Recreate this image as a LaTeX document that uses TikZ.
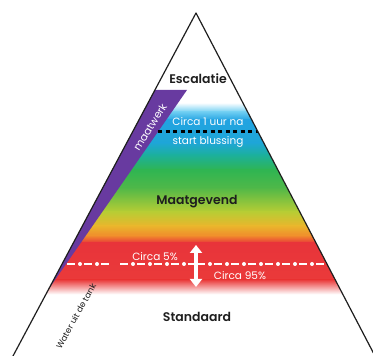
\documentclass[tikz,border=0pt]{standalone}
\usepackage{fontspec}
\setmainfont{Poppins}[BoldFont={Poppins SemiBold}]
\usetikzlibrary{arrows.meta}
\definecolor{lichtblauw}{RGB}{111,206,242}
\definecolor{blauw}{RGB}{34,163,226}
\definecolor{blauwb}{RGB}{30,166,214}
\definecolor{petrol}{RGB}{28,176,156}
\definecolor{groen}{RGB}{47,181,82}
\definecolor{groenb}{RGB}{80,184,72}
\definecolor{geelgroen}{RGB}{184,205,52}
\definecolor{geel}{RGB}{234,181,44}
\definecolor{oranje}{RGB}{240,138,44}
\definecolor{rood}{RGB}{232,52,58}
\definecolor{roodb}{RGB}{234,58,58}
\definecolor{paars}{RGB}{104,58,160}
\definecolor{lijn}{RGB}{30,30,30}
\tikzset{
  kop/.style={font=\bfseries\fontsize{12.5}{14}\selectfont, text=lijn},
  wit/.style={font=\fontsize{10.5}{12}\selectfont, text=white, inner sep=0pt}
}
\begin{document}
\begin{tikzpicture}[x=1pt, y=1pt, line cap=round, line join=round]
  \useasboundingbox (0,0) rectangle (373,356);
  % kleurverloop binnen de piramide
  \begin{scope}
    \clip (196,343) -- (13,0) -- (375,0) -- cycle;
    \foreach \ya/\yb/\ca/\cb in {253/244/white/lichtblauw, 244/236/lichtblauw/blauw,
        236/213/blauw/blauwb, 213/201/blauwb/petrol, 201/186/petrol/groen,
        186/168/groen/groenb, 168/144/groenb/geelgroen, 144/130/geelgroen/geel,
        130/120/geel/oranje, 120/113/oranje/rood, 113/76/rood/roodb, 76/62/roodb/white}
      \shade[top color=\ca, bottom color=\cb] (0,\yb-0.3) rectangle (373,\ya+0.3);
    % maatwerk strook
    \fill[paars] (150,266) -- (187,266) -- (48,66) -- (0,0) -- cycle;
  \end{scope}
  % lijn 1 uur
  \draw[black, line width=3pt, line cap=butt, dash pattern=on 4 off 3.5] (158,224) -- (258,224);
  % lijn 5% / 95%
  \foreach \c in {71,88,105,124,141,158,175,192,201,218,235,252,269,286,303,320}
    \draw[white, line width=1.6pt, line cap=butt] (\c-4,92) -- (\c+4,92);
  \foreach \c in {80,97,133,150,167,184,210,227,244,261,278,295,312}
    \fill[white] (\c,92) circle (2);
  \draw[white, line width=4.5pt, line cap=butt,
    {Triangle[width=12pt,length=8pt]}-{Triangle[width=12pt,length=8pt]}] (196,69) -- (196,111);
  % teksten
  \node[kop] (escalatie) at (198,277) {Escalatie};
  \node[wit] (uur) at (208,234) {Circa 1 uur na};
  \node[wit] (blussing) at (208,214) {start blussing};
  \node[kop] (maatgevend) at (197,154) {Maatgevend};
  \node[wit] (vijf) at (155,99) {Circa 5\%};
  \node[wit] (negentig) at (240,80) {Circa 95\%};
  \node[kop] (standaard) at (197,39) {Standaard};
  \node[wit, rotate=58] (maatwerk) at (150,229) {maatwerk};
  \node[font=\fontsize{8.5}{10}\selectfont, text=lijn, rotate=61, inner sep=0pt] (tank) at (76,40) {Water uit de tank};
  % omtrek
  \draw[lijn, line width=1.2pt] (13,0) -- (196,343) -- (375,0);
\end{tikzpicture}
\end{document}
